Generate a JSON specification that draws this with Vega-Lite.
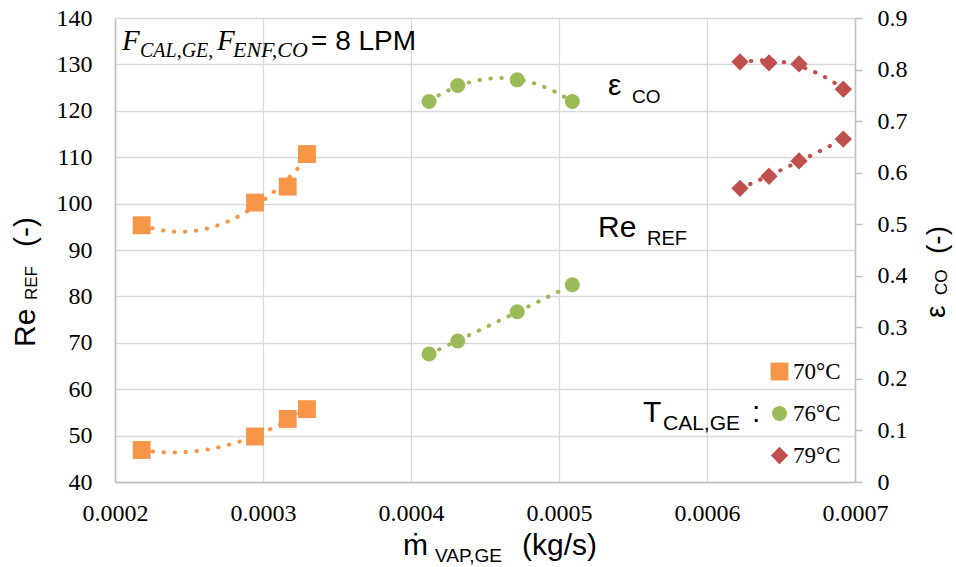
{
  "$schema": "https://vega.github.io/schema/vega-lite/v6.json",
  "width": 740,
  "height": 464,
  "autosize": {"type": "none"},
  "padding": {"left": 115, "top": 18, "right": 101, "bottom": 85},
  "background": "white",
  "config": {
    "view": {"stroke": null},
    "axis": {"labelFont": "Liberation Serif", "labelFontSize": 24, "labelColor": "#000000", "gridColor": "#D9D9D9", "gridWidth": 1.3, "domainColor": "#BFBFBF", "domainWidth": 1.5, "tickColor": "#BFBFBF"},
    "legend": {"labelFont": "Liberation Serif", "labelFontSize": 23, "labelColor": "#000000"}
  },
  "data": {"values": [
    {"m": 0.000218, "T": "70°C", "Re": 46.9, "eps": 0.498},
    {"m": 0.0002946, "T": "70°C", "Re": 49.8, "eps": 0.542},
    {"m": 0.0003167, "T": "70°C", "Re": 53.6, "eps": 0.573},
    {"m": 0.0003297, "T": "70°C", "Re": 55.7, "eps": 0.636},
    {"m": 0.0004122, "T": "76°C", "Re": 67.6, "eps": 0.738},
    {"m": 0.0004316, "T": "76°C", "Re": 70.4, "eps": 0.769},
    {"m": 0.0004718, "T": "76°C", "Re": 76.7, "eps": 0.780},
    {"m": 0.000509, "T": "76°C", "Re": 82.5, "eps": 0.738},
    {"m": 0.0006223, "T": "79°C", "Re": 103.3, "eps": 0.815},
    {"m": 0.0006419, "T": "79°C", "Re": 105.9, "eps": 0.813},
    {"m": 0.0006622, "T": "79°C", "Re": 109.2, "eps": 0.811},
    {"m": 0.0006921, "T": "79°C", "Re": 113.9, "eps": 0.762}
  ]},
  "layer": [
    {
      "layer": [
        {
          "mark": {"type": "point", "filled": true, "opacity": 1, "strokeWidth": 0},
          "encoding": {
            "x": {"field": "m", "type": "quantitative", "scale": {"domain": [0.0002, 0.0007], "nice": false, "zero": false},
                  "axis": {"title": null, "values": [0.0002, 0.0003, 0.0004, 0.0005, 0.0006, 0.0007], "format": ".4f", "grid": true, "ticks": false, "tickSize": 0, "labelPadding": 19, "labelFlush": false, "labelOverlap": false, "labelFont": "Liberation Serif", "labelFontSize": 24, "labelColor": "#000000", "domain": true}},
            "y": {"field": "Re", "type": "quantitative", "scale": {"domain": [40, 140], "nice": false, "zero": false},
                  "axis": {"title": null, "orient": "left", "values": [40, 50, 60, 70, 80, 90, 100, 110, 120, 130, 140], "grid": true, "ticks": false, "tickSize": 0, "labelPadding": 23, "labelFlush": false, "labelOverlap": false, "labelFont": "Liberation Serif", "labelFontSize": 24, "labelColor": "#000000", "domain": true}},
            "color": {"field": "T", "type": "nominal", "scale": {"domain": ["70°C", "76°C", "79°C"], "range": ["#F79646", "#9BBB59", "#C0504D"]},
                      "legend": {"title": null, "orient": "none", "legendX": 653, "legendY": 342, "labelFont": "Liberation Serif", "labelFontSize": 23, "labelColor": "#000000", "symbolSize": 196, "rowPadding": 18, "labelOffset": 2, "padding": 0, "symbolStrokeWidth": 0}},
            "shape": {"field": "T", "type": "nominal", "scale": {"domain": ["70°C", "76°C", "79°C"], "range": ["square", "circle", "diamond"]},
                      "legend": {"title": null, "orient": "none", "legendX": 653, "legendY": 342, "labelFont": "Liberation Serif", "labelFontSize": 23, "labelColor": "#000000", "symbolSize": 196, "rowPadding": 18, "labelOffset": 2, "padding": 0, "symbolStrokeWidth": 0}},
            "size": {"field": "T", "type": "ordinal", "scale": {"type": "ordinal", "domain": ["70°C", "76°C", "79°C"], "range": [320, 225, 300]}, "legend": null}
          }
        },
        {
          "transform": [{"regression": "Re", "on": "m", "groupby": ["T"], "method": "poly", "order": 2}],
          "mark": {"type": "line", "strokeWidth": 4, "strokeDash": [0.5, 10.5], "strokeCap": "round"},
          "encoding": {
            "x": {"field": "m", "type": "quantitative", "scale": {"domain": [0.0002, 0.0007], "nice": false, "zero": false}},
            "y": {"field": "Re", "type": "quantitative", "scale": {"domain": [40, 140], "nice": false, "zero": false}},
            "color": {"field": "T", "type": "nominal", "scale": {"domain": ["70°C", "76°C", "79°C"], "range": ["#F79646", "#9BBB59", "#C0504D"]}}
          }
        },
        {"data": {"values": [{}]}, "mark": {"type": "text", "text": "Re", "font": "Liberation Sans", "fontSize": 30, "align": "left", "baseline": "alphabetic", "angle": 270, "color": "#000000"},
         "encoding": {"x": {"datum": 0.00014595, "type": "quantitative", "scale": {"domain": [0.0002, 0.0007], "nice": false, "zero": false}}, "y": {"datum": 69.09, "type": "quantitative", "scale": {"domain": [40, 140], "nice": false, "zero": false}}}},
        {"data": {"values": [{}]}, "mark": {"type": "text", "text": "REF", "font": "Liberation Sans", "fontSize": 17, "align": "left", "baseline": "alphabetic", "angle": 270, "color": "#000000"},
         "encoding": {"x": {"datum": 0.0001473, "type": "quantitative", "scale": {"domain": [0.0002, 0.0007], "nice": false, "zero": false}}, "y": {"datum": 79.22, "type": "quantitative", "scale": {"domain": [40, 140], "nice": false, "zero": false}}}},
        {"data": {"values": [{}]}, "mark": {"type": "text", "text": "(-)", "font": "Liberation Sans", "fontSize": 30, "align": "left", "baseline": "alphabetic", "angle": 270, "color": "#000000"},
         "encoding": {"x": {"datum": 0.00014595, "type": "quantitative", "scale": {"domain": [0.0002, 0.0007], "nice": false, "zero": false}}, "y": {"datum": 90.65, "type": "quantitative", "scale": {"domain": [40, 140], "nice": false, "zero": false}}}},
        {"data": {"values": [{}]}, "mark": {"type": "text", "text": "ε", "font": "Liberation Sans", "fontSize": 28, "align": "left", "baseline": "alphabetic", "angle": 270, "color": "#000000"},
         "encoding": {"x": {"datum": 0.00076081, "type": "quantitative", "scale": {"domain": [0.0002, 0.0007], "nice": false, "zero": false}}, "y": {"datum": 75.34, "type": "quantitative", "scale": {"domain": [40, 140], "nice": false, "zero": false}}}},
        {"data": {"values": [{}]}, "mark": {"type": "text", "text": "CO", "font": "Liberation Sans", "fontSize": 17, "align": "left", "baseline": "alphabetic", "angle": 270, "color": "#000000"},
         "encoding": {"x": {"datum": 0.00076216, "type": "quantitative", "scale": {"domain": [0.0002, 0.0007], "nice": false, "zero": false}}, "y": {"datum": 80.3, "type": "quantitative", "scale": {"domain": [40, 140], "nice": false, "zero": false}}}},
        {"data": {"values": [{}]}, "mark": {"type": "text", "text": "(-)", "font": "Liberation Sans", "fontSize": 28, "align": "left", "baseline": "alphabetic", "angle": 270, "color": "#000000"},
         "encoding": {"x": {"datum": 0.00076149, "type": "quantitative", "scale": {"domain": [0.0002, 0.0007], "nice": false, "zero": false}}, "y": {"datum": 89.14, "type": "quantitative", "scale": {"domain": [40, 140], "nice": false, "zero": false}}}},
        {"data": {"values": [{}]}, "mark": {"type": "text", "text": "ṁ", "font": "Liberation Sans", "fontSize": 30, "align": "left", "baseline": "alphabetic", "color": "#000000"},
         "encoding": {"x": {"datum": 0.00039459, "type": "quantitative", "scale": {"domain": [0.0002, 0.0007], "nice": false, "zero": false}}, "y": {"datum": 24.27, "type": "quantitative", "scale": {"domain": [40, 140], "nice": false, "zero": false}}}},
        {"data": {"values": [{}]}, "mark": {"type": "text", "text": "VAP,GE", "font": "Liberation Sans", "fontSize": 19, "align": "left", "baseline": "alphabetic", "color": "#000000"},
         "encoding": {"x": {"datum": 0.00041622, "type": "quantitative", "scale": {"domain": [0.0002, 0.0007], "nice": false, "zero": false}}, "y": {"datum": 22.76, "type": "quantitative", "scale": {"domain": [40, 140], "nice": false, "zero": false}}}},
        {"data": {"values": [{}]}, "mark": {"type": "text", "text": "(kg/s)", "font": "Liberation Sans", "fontSize": 30, "align": "left", "baseline": "alphabetic", "color": "#000000"},
         "encoding": {"x": {"datum": 0.000475, "type": "quantitative", "scale": {"domain": [0.0002, 0.0007], "nice": false, "zero": false}}, "y": {"datum": 24.27, "type": "quantitative", "scale": {"domain": [40, 140], "nice": false, "zero": false}}}},
        {"data": {"values": [{}]}, "mark": {"type": "text", "text": "F", "font": "Liberation Serif", "fontStyle": "italic", "fontSize": 29, "align": "left", "baseline": "alphabetic", "color": "#000000"},
         "encoding": {"x": {"datum": 0.00020473, "type": "quantitative", "scale": {"domain": [0.0002, 0.0007], "nice": false, "zero": false}}, "y": {"datum": 133.1, "type": "quantitative", "scale": {"domain": [40, 140], "nice": false, "zero": false}}}},
        {"data": {"values": [{}]}, "mark": {"type": "text", "text": "CAL,GE,", "font": "Liberation Serif", "fontStyle": "italic", "fontSize": 20, "align": "left", "baseline": "alphabetic", "color": "#000000"},
         "encoding": {"x": {"datum": 0.00021689, "type": "quantitative", "scale": {"domain": [0.0002, 0.0007], "nice": false, "zero": false}}, "y": {"datum": 131.59, "type": "quantitative", "scale": {"domain": [40, 140], "nice": false, "zero": false}}}},
        {"data": {"values": [{}]}, "mark": {"type": "text", "text": "F", "font": "Liberation Serif", "fontStyle": "italic", "fontSize": 29, "align": "left", "baseline": "alphabetic", "color": "#000000"},
         "encoding": {"x": {"datum": 0.0002689, "type": "quantitative", "scale": {"domain": [0.0002, 0.0007], "nice": false, "zero": false}}, "y": {"datum": 133.1, "type": "quantitative", "scale": {"domain": [40, 140], "nice": false, "zero": false}}}},
        {"data": {"values": [{}]}, "mark": {"type": "text", "text": "ENF,CO", "font": "Liberation Serif", "fontStyle": "italic", "fontSize": 22, "align": "left", "baseline": "alphabetic", "color": "#000000"},
         "encoding": {"x": {"datum": 0.00027973, "type": "quantitative", "scale": {"domain": [0.0002, 0.0007], "nice": false, "zero": false}}, "y": {"datum": 131.59, "type": "quantitative", "scale": {"domain": [40, 140], "nice": false, "zero": false}}}},
        {"data": {"values": [{}]}, "mark": {"type": "text", "text": "= 8 LPM", "font": "Liberation Sans", "fontSize": 28, "align": "left", "baseline": "alphabetic", "color": "#000000"},
         "encoding": {"x": {"datum": 0.00033243, "type": "quantitative", "scale": {"domain": [0.0002, 0.0007], "nice": false, "zero": false}}, "y": {"datum": 133.1, "type": "quantitative", "scale": {"domain": [40, 140], "nice": false, "zero": false}}}},
        {"data": {"values": [{}]}, "mark": {"type": "text", "text": "ε", "font": "Liberation Sans", "fontSize": 30, "align": "left", "baseline": "alphabetic", "color": "#000000"},
         "encoding": {"x": {"datum": 0.00053311, "type": "quantitative", "scale": {"domain": [0.0002, 0.0007], "nice": false, "zero": false}}, "y": {"datum": 123.41, "type": "quantitative", "scale": {"domain": [40, 140], "nice": false, "zero": false}}}},
        {"data": {"values": [{}]}, "mark": {"type": "text", "text": "CO", "font": "Liberation Sans", "fontSize": 19, "align": "left", "baseline": "alphabetic", "color": "#000000"},
         "encoding": {"x": {"datum": 0.00054932, "type": "quantitative", "scale": {"domain": [0.0002, 0.0007], "nice": false, "zero": false}}, "y": {"datum": 121.68, "type": "quantitative", "scale": {"domain": [40, 140], "nice": false, "zero": false}}}},
        {"data": {"values": [{}]}, "mark": {"type": "text", "text": "Re", "font": "Liberation Sans", "fontSize": 30, "align": "left", "baseline": "alphabetic", "color": "#000000"},
         "encoding": {"x": {"datum": 0.00052635, "type": "quantitative", "scale": {"domain": [0.0002, 0.0007], "nice": false, "zero": false}}, "y": {"datum": 92.8, "type": "quantitative", "scale": {"domain": [40, 140], "nice": false, "zero": false}}}},
        {"data": {"values": [{}]}, "mark": {"type": "text", "text": "REF", "font": "Liberation Sans", "fontSize": 20, "align": "left", "baseline": "alphabetic", "color": "#000000"},
         "encoding": {"x": {"datum": 0.00055946, "type": "quantitative", "scale": {"domain": [0.0002, 0.0007], "nice": false, "zero": false}}, "y": {"datum": 91.08, "type": "quantitative", "scale": {"domain": [40, 140], "nice": false, "zero": false}}}},
        {"data": {"values": [{}]}, "mark": {"type": "text", "text": "T", "font": "Liberation Sans", "fontSize": 30, "align": "left", "baseline": "alphabetic", "color": "#000000"},
         "encoding": {"x": {"datum": 0.00055676, "type": "quantitative", "scale": {"domain": [0.0002, 0.0007], "nice": false, "zero": false}}, "y": {"datum": 52.93, "type": "quantitative", "scale": {"domain": [40, 140], "nice": false, "zero": false}}}},
        {"data": {"values": [{}]}, "mark": {"type": "text", "text": "CAL,GE", "font": "Liberation Sans", "fontSize": 21, "align": "left", "baseline": "alphabetic", "color": "#000000"},
         "encoding": {"x": {"datum": 0.00057027, "type": "quantitative", "scale": {"domain": [0.0002, 0.0007], "nice": false, "zero": false}}, "y": {"datum": 51.21, "type": "quantitative", "scale": {"domain": [40, 140], "nice": false, "zero": false}}}},
        {"data": {"values": [{}]}, "mark": {"type": "text", "text": ":", "font": "Liberation Sans", "fontSize": 30, "align": "left", "baseline": "alphabetic", "color": "#000000"},
         "encoding": {"x": {"datum": 0.0006304, "type": "quantitative", "scale": {"domain": [0.0002, 0.0007], "nice": false, "zero": false}}, "y": {"datum": 52.93, "type": "quantitative", "scale": {"domain": [40, 140], "nice": false, "zero": false}}}}
      ]
    },
    {
      "layer": [
        {
          "mark": {"type": "point", "filled": true, "opacity": 1, "strokeWidth": 0},
          "encoding": {
            "x": {"field": "m", "type": "quantitative", "scale": {"domain": [0.0002, 0.0007], "nice": false, "zero": false}},
            "y": {"field": "eps", "type": "quantitative", "scale": {"domain": [0, 0.9], "nice": false, "zero": false},
                  "axis": {"title": null, "orient": "right", "values": [0, 0.1, 0.2, 0.3, 0.4, 0.5, 0.6, 0.7, 0.8, 0.9], "format": "~g", "grid": false, "ticks": true, "tickSize": 7, "tickWidth": 1.5, "labelPadding": 15, "labelFlush": false, "labelOverlap": false, "labelFont": "Liberation Serif", "labelFontSize": 24, "labelColor": "#000000", "domain": true}},
            "color": {"field": "T", "type": "nominal", "scale": {"domain": ["70°C", "76°C", "79°C"], "range": ["#F79646", "#9BBB59", "#C0504D"]}},
            "shape": {"field": "T", "type": "nominal", "scale": {"domain": ["70°C", "76°C", "79°C"], "range": ["square", "circle", "diamond"]}},
            "size": {"field": "T", "type": "ordinal", "scale": {"type": "ordinal", "domain": ["70°C", "76°C", "79°C"], "range": [320, 225, 300]}}
          }
        },
        {
          "transform": [{"regression": "eps", "on": "m", "groupby": ["T"], "method": "poly", "order": 2}],
          "mark": {"type": "line", "strokeWidth": 4, "strokeDash": [0.5, 10.5], "strokeCap": "round"},
          "encoding": {
            "x": {"field": "m", "type": "quantitative", "scale": {"domain": [0.0002, 0.0007], "nice": false, "zero": false}},
            "y": {"field": "eps", "type": "quantitative", "scale": {"domain": [0, 0.9], "nice": false, "zero": false}},
            "color": {"field": "T", "type": "nominal", "scale": {"domain": ["70°C", "76°C", "79°C"], "range": ["#F79646", "#9BBB59", "#C0504D"]}}
          }
        }
      ]
    }
  ],
  "resolve": {"scale": {"y": "independent"}}
}
